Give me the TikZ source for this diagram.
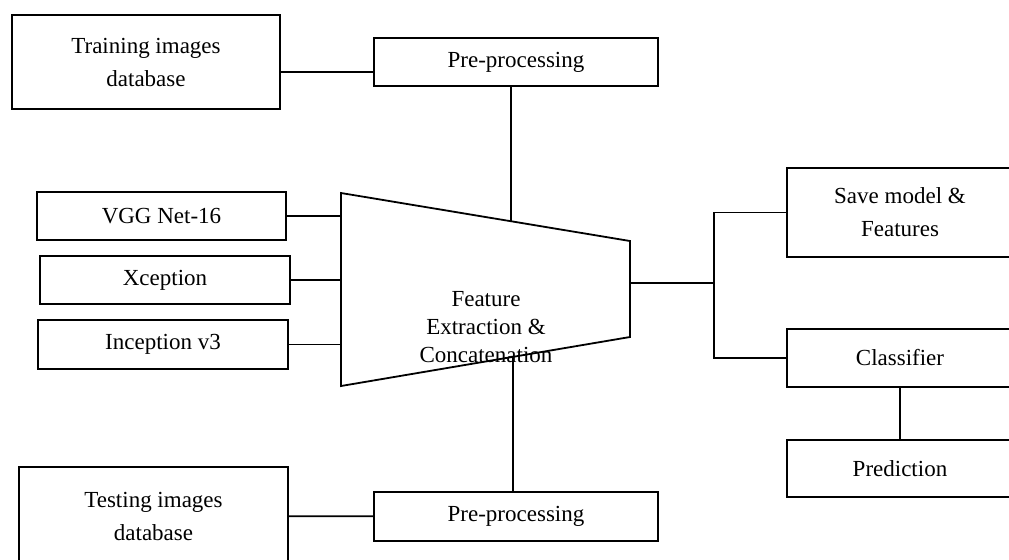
\documentclass[tikz,border=0pt]{standalone}
\usepackage{fontspec}
\setmainfont{Liberation Serif}
\usetikzlibrary{positioning,calc}

\tikzset{
  blk/.style={draw, rectangle, inner sep=0pt, align=center, font=\fontsize{11.5}{16.5}\selectfont},
}

\begin{document}
\begin{tikzpicture}[x=0.5pt, y=-0.5pt, line width=0.9pt]
    \useasboundingbox (0,0) rectangle (1009,559);
    \clip (0,0) rectangle (1009,559);

    % Input databases and pre-processing
    \node[blk, minimum width=134pt, minimum height=47pt] (train) at (146,62) {Training images\\database};
    \node[blk, minimum width=142pt, minimum height=24pt] (pretr) at (516,62) {Pre-processing};
    \node[blk, minimum width=134.5pt, minimum height=49pt] (test) at (153.5,516) {Testing images\\database};
    \node[blk, minimum width=142pt, minimum height=24.5pt] (pretest) at (516,516.5) {Pre-processing};

    % Backbone networks
    \node[blk, minimum width=124.5pt, minimum height=24pt] (vgg) at (161.5,216) {VGG Net-16};
    \node[blk, minimum width=125pt, minimum height=24pt] (xcp) at (165,280) {Xception};
    \node[blk, minimum width=125pt, minimum height=24.5pt] (inc) at (163,344.5) {Inception v3};

    % Feature extraction block
    \coordinate (tl) at (341,193);
    \coordinate (tr) at (630,241);
    \coordinate (br) at (630,337);
    \coordinate (bl) at (341,386);
    \draw (tl) -- (tr) -- (br) -- (bl) -- cycle;
    \node[align=center, font=\fontsize{11.5}{14}\selectfont] (feat) at (486,327) {Feature\\Extraction \&\\Concatenation};
    \coordinate (fout) at (630,283);
    \coordinate (jn) at (714,283);

    % Outputs
    \node[blk, minimum width=113pt, minimum height=44.5pt] (save) at (900,212.5) {Save model \&\\Features};
    \node[blk, minimum width=113pt, minimum height=29pt] (clf) at (900,358) {Classifier};
    \node[blk, minimum width=113pt, minimum height=28.5pt] (pred) at (900,468.5) {Prediction};

    % Connections
    \draw ([yshift=-5pt]train.east) -- ([yshift=-5pt]pretr.west);
    \coordinate (ftop) at ($(tl)!0.588!(tr)$);
    \draw (pretr.south -| ftop) -- (ftop);
    \foreach \n in {vgg,xcp,inc}
        \draw (\n.east) -- (\n.east -| tl);
    \draw (fout) -- (jn);
    \draw (save.west) -| (jn) |- (clf.west);
    \draw (clf) -- (pred);
    \coordinate (fbot) at ($(bl)!0.595!(br)$);
    \draw (fbot) -- (fbot |- pretest.north);
    \draw (test) -- (pretest);
\end{tikzpicture}
\end{document}
